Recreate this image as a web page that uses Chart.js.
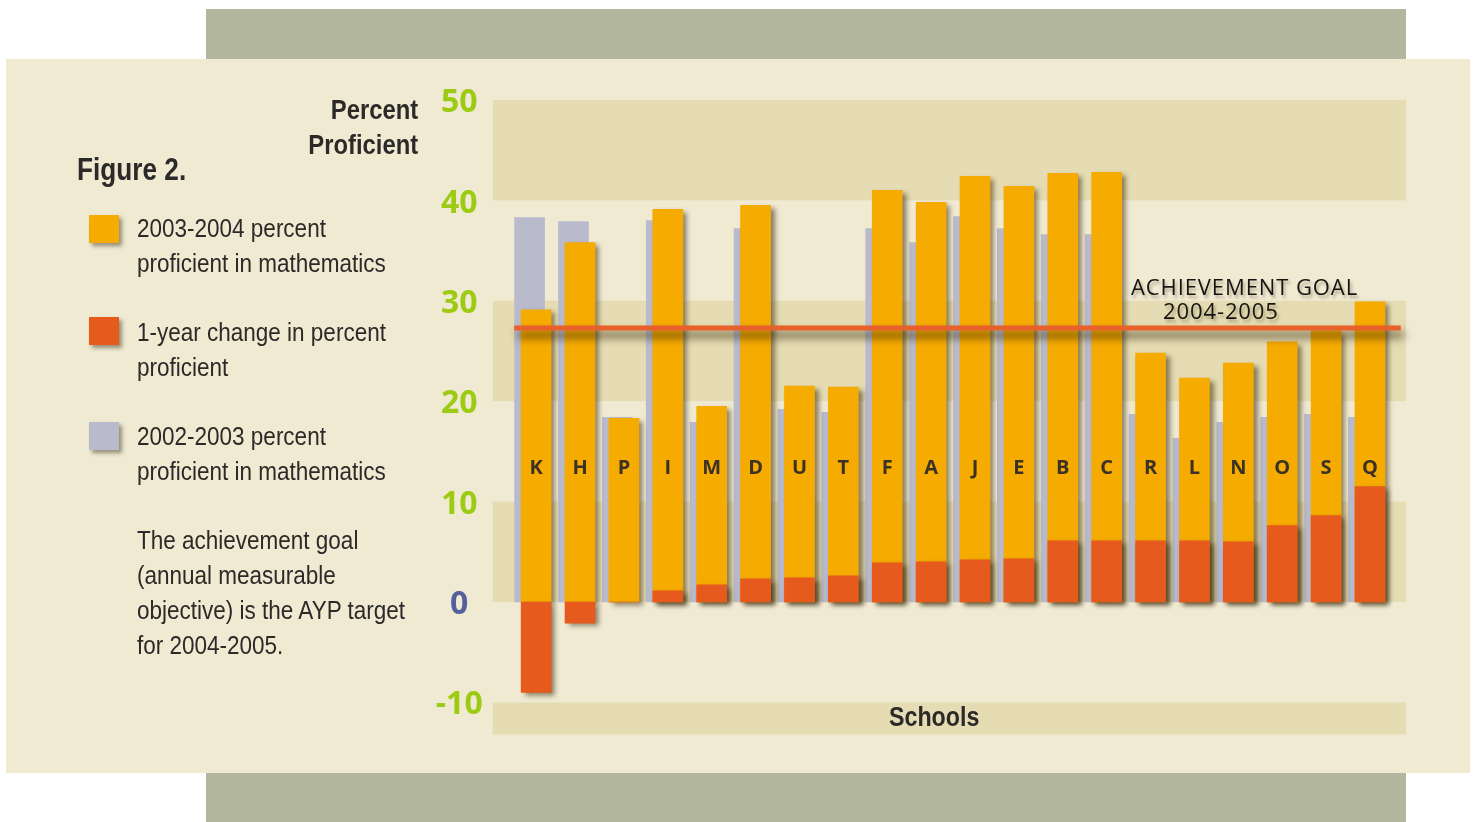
<!DOCTYPE html>
<html>
<head>
<meta charset="utf-8">
<script src="https://cdn.jsdelivr.net/npm/chart.js@4/dist/chart.umd.min.js"></script>
<style>
  html, body { margin:0; padding:0; background:#ffffff; }
  body { width:1477px; height:822px; position:relative; overflow:hidden; }
  .band { position:absolute; left:206px; width:1200px; background:#b3b79d; }
  #panel { position:absolute; left:6px; top:59px; width:1464px; height:714px; background:#f0ead3; }
  #chartWrap { position:absolute; left:0; top:0; width:1477px; height:822px; }
  .narrow { font-family:"Liberation Sans", Arial, sans-serif; color:#2c2a28; position:absolute; white-space:nowrap; }
  #ytitle { right:1059px; top:92px; font-size:28px; font-weight:bold; line-height:35px; text-align:right; transform:scaleX(0.85); transform-origin:right top; }
  #fig { left:77px; top:154px; font-size:31px; font-weight:bold; line-height:31px; transform:scaleX(0.845); transform-origin:left top; }
  .leg { left:137px; font-size:25px; line-height:35px; transform:scaleX(0.9); transform-origin:left top; }
  .sw { position:absolute; left:89px; width:30px; height:28px; box-shadow:3px 3px 4px rgba(40,30,10,0.45); }
  #schools { left:889px; top:699px; font-size:28px; font-weight:bold; line-height:35px; transform:scaleX(0.83); transform-origin:left top; }
  #goal { position:absolute; left:1131px; top:274px; font-family:"Open Sans",sans-serif; font-size:22px; line-height:24px; letter-spacing:0.9px; color:#161410; text-shadow:2px 3px 3px rgba(60,45,10,0.35); white-space:nowrap; }
</style>
</head>
<body>
<div class="band" style="top:9px;height:50px;"></div>
<div class="band" style="top:773px;height:49px;"></div>
<div id="panel"></div>
<div id="chartWrap"><canvas id="c" width="1477" height="822"></canvas></div>

<div id="ytitle" class="narrow">Percent<br>Proficient</div>
<div id="fig" class="narrow">Figure 2.</div>
<div class="sw" style="top:215px;background:#f5ab00;"></div>
<div class="leg narrow" style="top:211px;">2003-2004 percent<br>proficient in mathematics</div>
<div class="sw" style="top:317px;background:#e65a1e;"></div>
<div class="leg narrow" style="top:315px;">1-year change in percent<br>proficient</div>
<div class="sw" style="top:422px;background:#b9bbcc;"></div>
<div class="leg narrow" style="top:419px;">2002-2003 percent<br>proficient in mathematics</div>
<div class="leg narrow" style="top:523px;">The achievement goal<br>(annual measurable<br>objective) is the AYP target<br>for 2004-2005.</div>
<div id="schools" class="narrow">Schools</div>
<div id="goal">ACHIEVEMENT GOAL<br><span style="padding-left:32px">2004-2005</span></div>

<script>
// ---- data ----
const schools   = ["K","H","P","I","M","D","U","T","F","A","J","E","B","C","R","L","N","O","S","Q"];
const pct2004   = [29.1, 35.8, 18.3, 39.1, 19.5, 39.5, 21.5, 21.4, 41.0, 39.8, 42.4, 41.4, 42.7, 42.8, 24.8, 22.3, 23.8, 25.9, 27.0, 29.9];
const change1yr = [-9.0, -2.1, 0.0, 1.1, 1.7, 2.3, 2.4, 2.6, 3.9, 4.0, 4.2, 4.3, 6.1, 6.1, 6.1, 6.1, 6.0, 7.6, 8.6, 11.5];
const pct2003   = [38.3, 37.9, 18.4, 38.0, 17.9, 37.2, 19.2, 18.9, 37.2, 35.8, 38.4, 37.2, 36.6, 36.6, 18.7, 16.3, 17.9, 18.4, 18.7, 18.4];
const yTicks    = [-10, 0, 10, 20, 30, 40, 50];
const yMin = -13.2, yMax = 50;
const bandRanges = [[40, 50], [20, 30], [0, 10], [-13.2, -10]];
const goalValue = 27.3;
const letterLevel = 13.3;

const pts = arr => arr.map((v, i) => ({ x: i, y: v }));

const bandsPlugin = {
  id: 'bands',
  beforeDatasetsDraw(chart) {
    const { ctx, chartArea: a, scales: { y } } = chart;
    ctx.save();
    ctx.fillStyle = '#e5dcb3';
    bandRanges.forEach(([lo, hi]) => {
      const top = y.getPixelForValue(hi), bot = y.getPixelForValue(lo);
      ctx.fillRect(a.left, top, a.right - a.left, bot - top);
    });
    ctx.restore();
  }
};

const shadowPlugin = {
  id: 'barShadow',
  beforeDatasetDraw(chart, args) {
    const ds = chart.data.datasets[args.index];
    chart.ctx.save();
    if (ds.shadow) {
      chart.ctx.shadowColor = 'rgba(50,35,5,0.55)';
      chart.ctx.shadowBlur = 5;
      chart.ctx.shadowOffsetX = 4;
      chart.ctx.shadowOffsetY = 3;
    }
  },
  afterDatasetDraw(chart) { chart.ctx.restore(); }
};

const overlayPlugin = {
  id: 'overlay',
  afterDatasetsDraw(chart) {
    const { ctx, scales: { x, y } } = chart;
    // school letters
    ctx.save();
    ctx.font = 'bold 20px "Open Sans", sans-serif';
    ctx.fillStyle = '#3b3125';
    ctx.textAlign = 'center';
    ctx.textBaseline = 'middle';
    schools.forEach((s, i) => ctx.fillText(s, x.getPixelForValue(i), y.getPixelForValue(letterLevel)));
    ctx.restore();
    // achievement goal line
    ctx.save();
    const gy = y.getPixelForValue(goalValue);
    ctx.strokeStyle = '#e8602a';
    ctx.lineWidth = 5;
    ctx.shadowColor = 'rgba(45,30,5,0.75)';
    ctx.shadowBlur = 8;
    ctx.shadowOffsetX = 3;
    ctx.shadowOffsetY = 7;
    ctx.beginPath();
    ctx.moveTo(x.getPixelForValue(-0.5), gy);
    ctx.lineTo(x.getPixelForValue(19.7), gy);
    ctx.stroke();
    ctx.restore();
  }
};

new Chart(document.getElementById('c'), {
  type: 'bar',
  data: {
    datasets: [
      { label: '1-year change in percent proficient', data: pts(change1yr), backgroundColor: '#e65a1e', xAxisID: 'x', shadow: true, order: 1 },
      { label: '2003-2004 percent proficient in mathematics', data: pts(pct2004), backgroundColor: '#f5ab00', xAxisID: 'x', shadow: true, order: 2 },
      { label: '2002-2003 percent proficient in mathematics', data: pts(pct2003), backgroundColor: '#b9bbcc', xAxisID: 'xg', shadow: false, order: 3 }
    ]
  },
  options: {
    responsive: false,
    animation: false,
    events: [],
    grouped: false,
    barThickness: 30,
    layout: { padding: { top: 100, bottom: 87.5, left: 412.7, right: 71 } },
    plugins: { legend: { display: false }, tooltip: { enabled: false } },
    scales: {
      x:  { type: 'linear', min: -0.99, max: 19.82, offset: false, display: false },
      xg: { type: 'linear', min: -0.84, max: 19.97, offset: false, display: false },
      y: {
        type: 'linear', min: yMin, max: yMax,
        afterBuildTicks: s => { s.ticks = yTicks.map(v => ({ value: v })); },
        afterFit: s => { s.width = 80; },
        border: { display: false },
        grid: { display: false, drawTicks: false },
        ticks: {
          crossAlign: 'center',
          padding: 10,
          labelOffset: 3,
          font: { family: '"Open Sans", sans-serif', size: 32, weight: 'bold' },
          color: ctx => (ctx.tick && ctx.tick.value === 0) ? '#56609f' : '#9dcb14'
        }
      }
    }
  },
  plugins: [bandsPlugin, shadowPlugin, overlayPlugin]
});
</script>
</body>
</html>
